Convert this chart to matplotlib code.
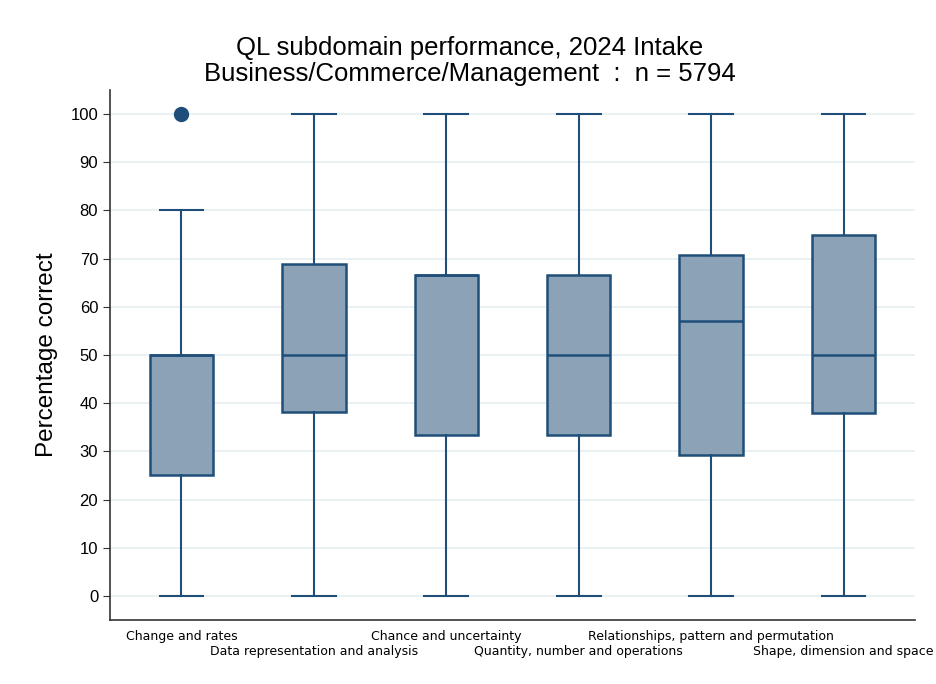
import matplotlib.pyplot as plt

# QL subdomain summary (percentage correct)
subdomains = ["Change and rates", "Data representation and analysis",
              "Chance and uncertainty", "Quantity, number and operations",
              "Relationships, pattern and permutation", "Shape, dimension and space"]
whislo = [0, 0, 0, 0, 0, 0]
q1 = [25, 38.1, 33.3, 33.3, 29.2, 38]
median = [50, 50, 66.7, 50, 57.1, 50]
q3 = [50, 68.8, 66.7, 66.7, 70.8, 75]
whishi = [80, 100, 100, 100, 100, 100]
outliers = [[100], [], [], [], [], []]

navy = "#1f4e79"
fill = "#8ca3b7"

plt.rcParams["font.family"] = ["Liberation Sans", "DejaVu Sans"]

stats = []
for i, name in enumerate(subdomains):
    stats.append(dict(label=name, whislo=whislo[i], q1=q1[i], med=median[i],
                      q3=q3[i], whishi=whishi[i], fliers=outliers[i]))

fig = plt.figure(figsize=(9.36, 6.84), dpi=100)
ax = fig.add_axes([110/936, 64/684, 805/936, 530/684])

pos = list(range(1, len(subdomains) + 1))
ax.bxp(stats, positions=pos, widths=0.48, patch_artist=True, showfliers=True,
       boxprops=dict(facecolor=fill, edgecolor=navy, linewidth=1.8),
       medianprops=dict(color=navy, linewidth=1.8),
       whiskerprops=dict(color=navy, linewidth=1.5),
       capprops=dict(color=navy, linewidth=1.5),
       capwidths=0.33,
       flierprops=dict(marker="o", markersize=10, markerfacecolor=navy,
                       markeredgecolor=navy))

ax.set_xlim(0.46, 6.54)
ax.set_ylim(-5, 105)
ax.set_yticks(range(0, 101, 10))
ax.tick_params(axis="y", labelsize=12, length=5, color="#333333")
ax.yaxis.grid(True, color="#e8f0f2", linewidth=1.3)
ax.set_axisbelow(True)

ax.set_xticks(pos)
ax.set_xticklabels([])
ax.tick_params(axis="x", length=0)
for i, name in enumerate(subdomains):
    ax.text(pos[i], -8.5 if i % 2 == 0 else -11.6, name, ha="center", va="center",
            fontsize=9, family=["Liberation Sans Narrow", "DejaVu Sans"])

for s in ["top", "right"]:
    ax.spines[s].set_visible(False)
for s in ["left", "bottom"]:
    ax.spines[s].set_color("#333333")
    ax.spines[s].set_linewidth(1.2)

ax.set_ylabel("Percentage correct", fontsize=17.5, labelpad=9)
fig.suptitle("QL subdomain performance, 2024 Intake\n"
             "Business/Commerce/Management  :  n = 5794",
             fontsize=18.5, x=0.502, y=0.947, linespacing=1.1)

fig.savefig("out.png", dpi=100)
